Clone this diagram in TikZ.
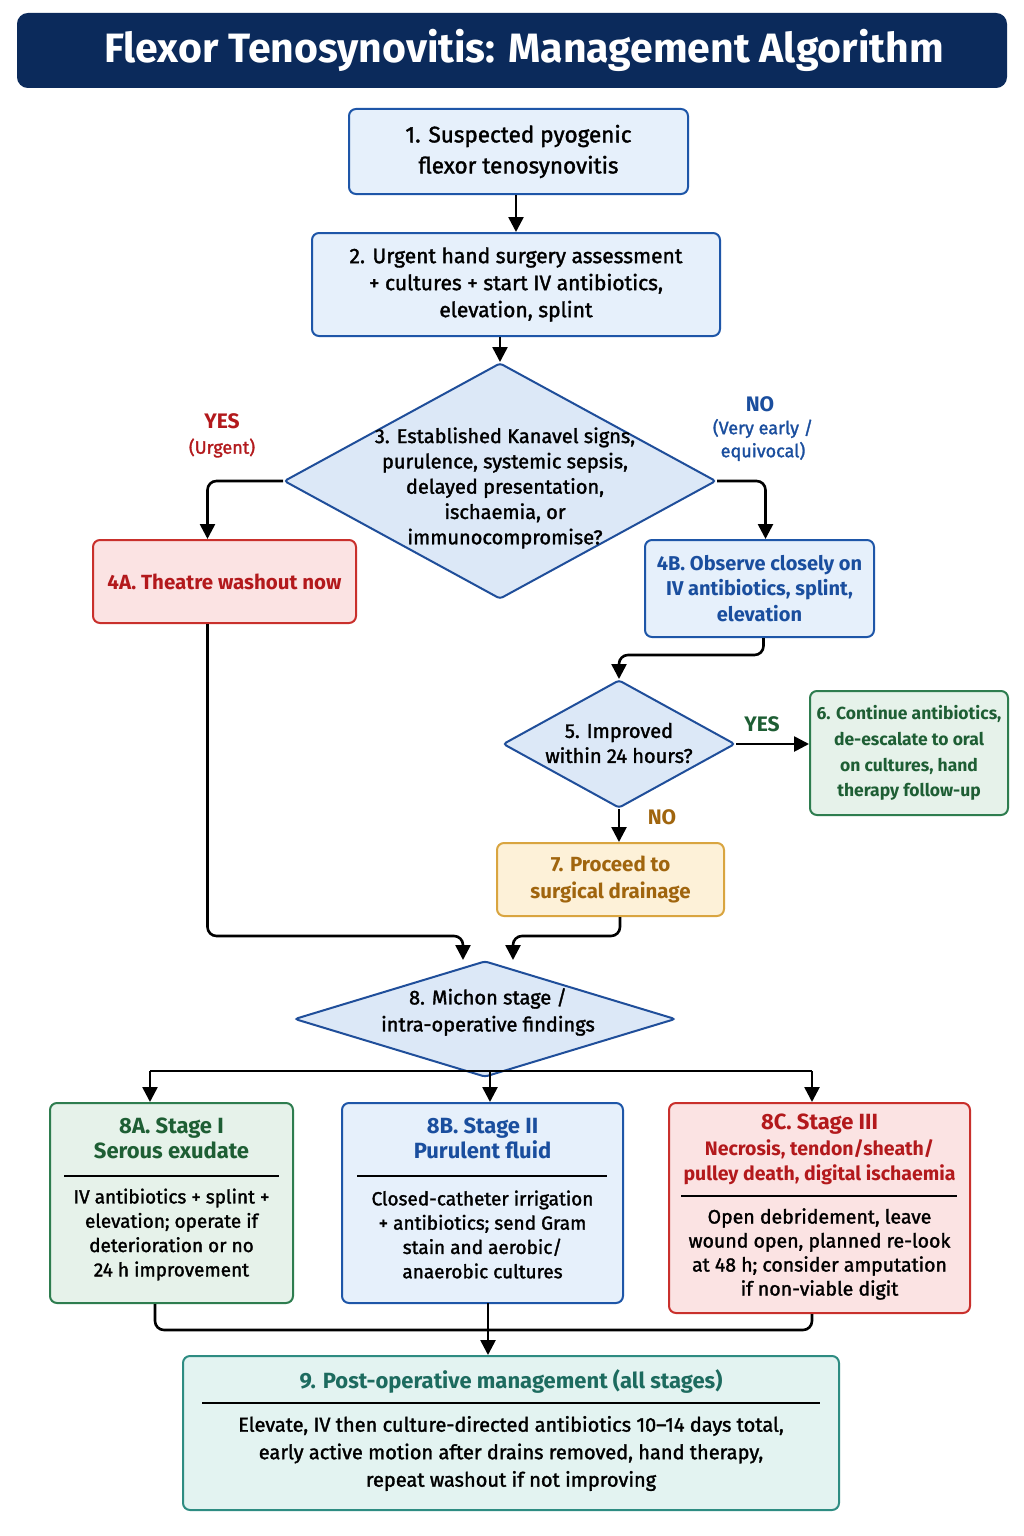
\documentclass[tikz,border=0pt]{standalone}
\usepackage{fontspec}
\setmainfont{Fira Sans}[UprightFeatures={FakeBold=1.6}]
\usetikzlibrary{arrows.meta,shapes.geometric,positioning}

\begin{document}
\begin{tikzpicture}[x=1pt,y=-1pt,>={Triangle[length=15pt,width=15pt]},
	box/.style={draw,line width=2pt,rounded corners=7pt,align=center,inner sep=0pt},
	boxblue/.style={box,draw=bblue,fill=bfill},
	boxred/.style={box,draw=rborder,fill=rfill},
	boxgreen/.style={box,draw=gborder,fill=gfill},
	boxgold/.style={box,draw=yborder,fill=yfill},
	boxteal/.style={box,draw=cborder,fill=cfill},
	dia/.style={diamond,draw=dblue,fill=dfill,line width=2pt,inner sep=0pt,rounded corners=3pt},
	txt/.style={align=center,font=\fontsize{20}{25}\selectfont},
	head/.style={align=center,font=\fontsize{21}{25}\selectfont\bfseries},
	conn/.style={line width=2.6pt,rounded corners=9pt},
	arr/.style={conn,->},
	rule/.style={line width=1.3pt}]

\definecolor{navy}{HTML}{0B2A5B}
\definecolor{bblue}{HTML}{1E56A8}
\definecolor{bfill}{HTML}{E6F0FB}
\definecolor{dblue}{HTML}{1F4E9A}
\definecolor{dfill}{HTML}{DCE8F7}
\definecolor{tblue}{HTML}{1A4E9E}
\definecolor{rborder}{HTML}{C9302C}
\definecolor{rfill}{HTML}{FBE3E3}
\definecolor{tred}{HTML}{B3191C}
\definecolor{gborder}{HTML}{2E7D4F}
\definecolor{gfill}{HTML}{E6F2EA}
\definecolor{tgreen}{HTML}{1E5E34}
\definecolor{yborder}{HTML}{D9A540}
\definecolor{yfill}{HTML}{FDF1D8}
\definecolor{tgold}{HTML}{A0650E}
\definecolor{cborder}{HTML}{2E8C82}
\definecolor{cfill}{HTML}{E3F3F1}
\definecolor{tteal}{HTML}{1D6B5F}

\useasboundingbox[fill=white] (0,0) rectangle (1024,1536);

% title bar
\node[box,draw=navy,fill=navy,rounded corners=10pt,minimum width=988pt,minimum height=73pt] (title) at (512,50.5) {};
\node[text=white,font=\fontsize{41}{46}\selectfont\bfseries] (titlet) at (524,50.5)
	{Flexor Tenosynovitis: Management Algorithm};

% top of the chart
\node[boxblue,minimum width=339pt,minimum height=85pt,font=\fontsize{22.5}{31}\selectfont] (n1)
	at (518.5,151.5) {1. Suspected pyogenic\\flexor tenosynovitis};
\node[boxblue,minimum width=408pt,minimum height=103pt,font=\fontsize{21}{27}\selectfont] (n2)
	at (516,284.5) {2. Urgent hand surgery assessment\\+ cultures + start IV antibiotics,\\elevation, splint};

\node[dia,minimum width=432pt,minimum height=236pt] (d3) at (500,481) {};
\node[txt,font=\fontsize{20}{25.3}\selectfont] (d3t) at (505,488)
	{3. Established Kanavel signs,\\purulence, systemic sepsis,\\delayed presentation,\\ischaemia, or\\immunocompromise?};

\node[head,text=tred] (yes3) at (222,421) {YES};
\node[txt,text=tred,font=\fontsize{18}{23}\selectfont] (urgent) at (222,448) {(Urgent)};
\node[head,text=tblue] (no3) at (760,404) {NO};
\node[txt,text=tblue,font=\fontsize{18}{23}\selectfont] (early) at (763,440) {(Very early /\\equivocal)};

\node[boxred,minimum width=263pt,minimum height=83pt,text=tred,font=\fontsize{20.5}{25}\selectfont\bfseries] (n4a)
	at (224.5,581.5) {4A. Theatre washout now};
\node[boxblue,minimum width=229pt,minimum height=97pt,text=tblue,font=\fontsize{20}{25.5}\selectfont\bfseries] (n4b)
	at (759.5,588.5) {4B. Observe closely on\\IV antibiotics, splint,\\elevation};

% 24 hour review
\node[dia,minimum width=232pt,minimum height=128pt] (d5) at (619,744) {};
\node[txt] (d5t) at (619,743) {5. Improved\\within 24 hours?};
\node[head,text=tgreen] (yes5) at (762,724) {YES};
\node[boxgreen,minimum width=198pt,minimum height=124pt,text=tgreen,font=\fontsize{17.5}{25.7}\selectfont\bfseries] (n6)
	at (909,753) {6. Continue antibiotics,\\de-escalate to oral\\on cultures, hand\\therapy follow-up};
\node[head,text=tgold] (no5) at (662,817) {NO};
\node[boxgold,minimum width=227pt,minimum height=73pt,text=tgold,font=\fontsize{20.5}{27}\selectfont\bfseries] (n7)
	at (610.5,879.5) {7. Proceed to\\surgical drainage};

% staging
\node[dia,minimum width=381pt,minimum height=116pt] (d8) at (485,1019) {};
\node[txt,font=\fontsize{20}{27}\selectfont] (d8t) at (488,1012) {8. Michon stage /\\intra-operative findings};

\node[boxgreen,minimum width=243pt,minimum height=200pt] (n8a) at (171.5,1203) {};
\node[head,text=tgreen,font=\fontsize{22}{25}\selectfont\bfseries] (n8ah) at (171.5,1138.5) {8A. Stage I\\Serous exudate};
\draw[rule] (64,1176) -- (279,1176);
\node[txt,font=\fontsize{19}{24.3}\selectfont] (n8ab) at (171.5,1234.5)
	{IV antibiotics + splint +\\elevation; operate if\\deterioration or no\\24 h improvement};

\node[boxblue,minimum width=281pt,minimum height=200pt] (n8b) at (482.5,1203) {};
\node[head,text=tblue,font=\fontsize{22}{25}\selectfont\bfseries] (n8bh) at (482.5,1138.5) {8B. Stage II\\Purulent fluid};
\draw[rule] (357,1176) -- (607,1176);
\node[txt,font=\fontsize{19}{24.3}\selectfont] (n8bb) at (482.5,1234.5)
	{Closed-catheter irrigation\\+ antibiotics; send Gram\\stain and aerobic/\\anaerobic cultures};

\node[boxred,minimum width=301pt,minimum height=210pt] (n8c) at (819.5,1208) {};
\node[head,text=tred,font=\fontsize{19.5}{25.5}\selectfont\bfseries] (n8ch) at (819.5,1149.5)
	{{\fontsize{22}{25}\selectfont 8C. Stage III}\\Necrosis, tendon/sheath/\\pulley death, digital ischaemia};
\draw[rule] (681,1196) -- (957,1196);
\node[txt,font=\fontsize{19.5}{24}\selectfont] (n8cb) at (819.5,1254)
	{Open debridement, leave\\wound open, planned re-look\\at 48 h; consider amputation\\if non-viable digit};

% post-operative
\node[boxteal,minimum width=656pt,minimum height=154pt] (n9) at (511,1433) {};
\node[head,text=tteal,font=\fontsize{22}{25}\selectfont\bfseries] (n9h) at (511,1381) {9. Post-operative management (all stages)};
\draw[rule] (202,1403) -- (820,1403);
\node[txt,font=\fontsize{20}{27.5}\selectfont] (n9b) at (511,1453.5)
	{Elevate, IV then culture-directed antibiotics 10--14 days total,\\early active motion after drains removed, hand therapy,\\repeat washout if not improving};

% connectors
\draw[arr] (n1.south -| n2.north) -- (n2.north);
\draw[arr] (n2.south -| d3.north) -- (d3.north);
\draw[arr] (d3.west) -| ([xshift=-17pt]n4a.north);
\draw[arr] (d3.east) -| ([xshift=6pt]n4b.north);
\draw[arr] ([xshift=4pt]n4b.south) -- ++(0,17) -| (d5.north);
\draw[arr] (d5.east) -- (d5.east -| n6.west);
\draw[arr] (d5.south) -- (d5.south |- n7.north);
\draw[arr] ([xshift=-17pt]n4a.south) |- ([xshift=-22pt,yshift=24pt]d8.north) -- ([xshift=-22pt]d8.north);
\draw[arr] ([xshift=9.5pt]n7.south) |- ([xshift=28pt,yshift=24pt]d8.north) -- ([xshift=28pt]d8.north);

\coordinate (fanL) at (150,1071);
\coordinate (fanM) at (490,1071);
\coordinate (fanR) at (812,1071);
\draw[conn] (fanL) -- (fanR);
\draw[arr] (fanL) -- (fanL |- n8a.north);
\draw[arr] (fanM) -- (fanM |- n8b.north);
\draw[arr] (fanR) -- (fanR |- n8c.north);

\coordinate (joinL) at (155,1330);
\coordinate (joinM) at (488,1303);
\coordinate (joinR) at (812,1330);
\draw[conn] (joinL |- n8a.south) -- (joinL) -- (joinR) -- (joinR |- n8c.south);
\draw[arr] (joinM) -- (joinM |- n9.north);

\end{tikzpicture}
\end{document}
